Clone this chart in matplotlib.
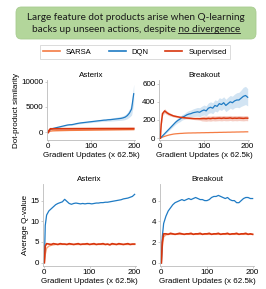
import matplotlib
matplotlib.use("Agg")
import matplotlib.pyplot as plt
from matplotlib.patches import FancyBboxPatch
from matplotlib.lines import Line2D

steps = [0, 2, 5] + list(range(10, 205, 5))

# Asterix, dot-product similarity
ast_dot_dqn = [0, 300, 600, 750, 850, 950, 1050, 1150, 1250, 1350, 1450, 1500, 1520, 1600,
               1700, 1780, 1850, 1900, 1950, 2000, 2050, 2100, 2150, 2200, 2250, 2300, 2350,
               2400, 2420, 2480, 2500, 2550, 2600, 2650, 2700, 2750, 2850, 3000, 3300, 3800,
               4600, 7600]
ast_dot_dqn_sd = [0, 50, 80, 100, 100, 100, 100, 100, 100, 120, 120, 120, 130, 130, 140, 140,
                  150, 150, 150, 160, 160, 170, 170, 180, 180, 190, 200, 220, 240, 260, 280,
                  300, 320, 340, 360, 380, 420, 480, 600, 800, 1200, 1900]
ast_dot_sup = [0, 400, 700, 690, 700, 700, 705, 705, 710, 710, 712, 715, 715, 718, 720, 720,
               722, 725, 725, 726, 728, 730, 730, 732, 733, 735, 735, 736, 738, 740, 740, 741,
               742, 743, 744, 745, 746, 747, 748, 749, 750, 750]
ast_dot_sarsa = [0, 150, 250, 300, 315, 330, 340, 350, 360, 370, 380, 390, 395, 400, 405, 410,
                 415, 420, 425, 430, 435, 440, 445, 450, 455, 460, 465, 470, 475, 480, 485,
                 490, 495, 500, 505, 510, 515, 520, 525, 530, 535, 540]

# Breakout, dot-product similarity
brk_dot_dqn = [0, 10, 25, 50, 75, 100, 125, 150, 175, 195, 210, 230, 240, 255, 265, 270, 280,
               285, 290, 285, 300, 310, 300, 330, 340, 330, 360, 350, 380, 370, 390, 360, 380,
               400, 390, 410, 420, 420, 440, 460, 470, 450]
brk_dot_dqn_sd = [0, 5, 8, 10, 12, 15, 18, 20, 22, 25, 28, 30, 32, 35, 38, 40, 42, 45, 48, 50,
                  52, 55, 55, 58, 60, 60, 62, 62, 65, 65, 65, 68, 70, 70, 72, 75, 80, 85, 90,
                  100, 100, 95]
brk_dot_sup = [0, 150, 270, 300, 280, 265, 255, 245, 240, 235, 230, 228, 225, 222, 220, 218,
               216, 215, 215, 214, 215, 216, 214, 218, 215, 220, 217, 219, 221, 218, 222, 219,
               220, 223, 218, 221, 219, 222, 220, 218, 221, 220]
brk_dot_sup_sd = [0, 10, 20, 25, 20, 18, 15, 12, 12, 10, 10, 10, 10, 10, 10, 10, 10, 12, 14,
                  16, 25, 28, 28, 28, 28, 28, 28, 28, 28, 28, 28, 28, 28, 28, 28, 28, 28, 28,
                  28, 28, 28, 28]
brk_dot_sarsa = [0, 5, 12, 20, 28, 35, 40, 45, 48, 50, 52, 53, 55, 56, 57, 57, 58, 58, 59, 59,
                 60, 60, 61, 61, 62, 62, 63, 63, 64, 64, 65, 65, 66, 66, 67, 67, 68, 68, 69,
                 69, 70, 70]

# Asterix, average Q-value
ast_q_dqn = [0, 9, 11.5, 12.5, 13, 13.5, 14, 14.3, 14.5, 14.7, 15.3, 14.8, 14.3, 14.1, 14.3,
             14.4, 14.3, 14.2, 14.3, 14.2, 14.3, 14.3, 14.2, 14.3, 14.4, 14.4, 14.5, 14.5,
             14.6, 14.6, 14.7, 14.8, 14.9, 15.0, 15.1, 15.2, 15.4, 15.5, 15.6, 15.8, 16.0, 16.5]
ast_q_sup = [0, 4.0, 4.6, 4.5, 4.4, 4.6, 4.5, 4.4, 4.6, 4.5, 4.5, 4.4, 4.6, 4.5, 4.4, 4.5,
             4.6, 4.4, 4.5, 4.5, 4.6, 4.4, 4.5, 4.6, 4.4, 4.5, 4.5, 4.6, 4.4, 4.5, 4.3, 4.6,
             4.5, 4.4, 4.6, 4.5, 4.4, 4.5, 4.6, 4.4, 4.5, 4.5]
ast_q_sarsa = [0, 2.0, 3.5, 4.0, 4.2, 4.3, 4.4, 4.4, 4.4, 4.4, 4.4, 4.4, 4.4, 4.4, 4.4, 4.4,
               4.4, 4.4, 4.4, 4.4, 4.4, 4.4, 4.4, 4.4, 4.4, 4.4, 4.4, 4.4, 4.4, 4.4, 4.4, 4.4,
               4.4, 4.4, 4.4, 4.4, 4.4, 4.4, 4.4, 4.4, 4.4, 4.4]

# Breakout, average Q-value
brk_q_dqn = [0, 2.5, 3.8, 4.5, 5.0, 5.3, 5.6, 5.8, 5.9, 6.0, 6.1, 6.0, 6.1, 6.2, 6.1, 6.2,
             6.3, 6.2, 6.1, 6.1, 6.0, 6.0, 6.1, 6.3, 6.4, 6.4, 6.5, 6.4, 6.3, 6.2, 6.3, 6.1,
             6.0, 6.0, 5.8, 5.8, 6.0, 6.2, 6.3, 6.3, 6.2, 6.2]
brk_q_sup = [0, 2.0, 2.8, 2.8, 2.75, 2.85, 2.8, 2.75, 2.8, 2.85, 2.8, 2.75, 2.8, 2.8, 2.85,
             2.75, 2.8, 2.8, 2.85, 2.75, 2.8, 2.8, 2.85, 2.75, 2.8, 2.8, 2.85, 2.75, 2.8, 2.8,
             2.85, 2.75, 2.8, 2.8, 2.85, 2.75, 2.8, 2.8, 2.85, 2.75, 2.8, 2.75]
brk_q_sarsa = [0, 1.5, 2.5, 2.7, 2.75, 2.75, 2.75, 2.75, 2.75, 2.75, 2.75, 2.75, 2.75, 2.75,
               2.75, 2.75, 2.75, 2.75, 2.75, 2.75, 2.75, 2.75, 2.75, 2.75, 2.75, 2.75, 2.75,
               2.75, 2.75, 2.75, 2.75, 2.75, 2.75, 2.75, 2.75, 2.75, 2.75, 2.75, 2.75, 2.75,
               2.75, 2.75]

labels = ["SARSA", "DQN", "Supervised"]
c_sarsa = "#f47c44"
c_dqn = "#1f7bc4"
c_sup = "#d8360e"

plt.rcParams["font.family"] = ["Liberation Sans", "DejaVu Sans"]
plt.rcParams["font.size"] = 5.5

fig = plt.figure(figsize=(2.66, 2.89), dpi=100)
W, H = 266.0, 289.0


def add_ax(x0, x1, y0, y1):
    # pixel box (top-left origin) -> figure fraction
    return fig.add_axes([x0 / W, 1 - y1 / H, (x1 - x0) / W, (y1 - y0) / H])


def band(ax, y, sd, color, alpha):
    lo = [a - b for a, b in zip(y, sd)]
    hi = [a + b for a, b in zip(y, sd)]
    ax.fill_between(steps, lo, hi, color=color, alpha=alpha, lw=0)


def style(ax, title, ylim, yticks):
    ax.set_title(title, fontsize=5.8, pad=2)
    ax.set_xlim(-3, 203)
    ax.set_ylim(*ylim)
    ax.set_yticks(yticks)
    ax.set_xticks([0, 100, 200])
    ax.set_xlabel("Gradient Updates (x 62.5k)", fontsize=5.8, labelpad=1)
    for s in ["top", "right"]:
        ax.spines[s].set_visible(False)
    for s in ["left", "bottom"]:
        ax.spines[s].set_color("#bbbbbb")
        ax.spines[s].set_linewidth(0.6)
    ax.tick_params(length=1.5, width=0.5, color="#bbbbbb", pad=1, labelsize=5.8)


ax1 = add_ax(47, 135, 80, 140)
band(ax1, ast_dot_dqn, ast_dot_dqn_sd, c_dqn, 0.2)
ax1.plot(steps, ast_dot_sarsa, color=c_sarsa, lw=1.0)
ax1.plot(steps, ast_dot_dqn, color=c_dqn, lw=0.9)
ax1.plot(steps, ast_dot_sup, color=c_sup, lw=1.3)
style(ax1, "Asterix", (-1500, 10300), [0, 5000, 10000])
ax1.set_ylabel("Dot-product similarity", fontsize=5.8, labelpad=1)

ax2 = add_ax(159, 249, 80, 140)
band(ax2, brk_dot_dqn, brk_dot_dqn_sd, c_dqn, 0.2)
band(ax2, brk_dot_sup, brk_dot_sup_sd, c_sup, 0.25)
ax2.plot(steps, brk_dot_sarsa, color=c_sarsa, lw=0.9)
ax2.plot(steps, brk_dot_dqn, color=c_dqn, lw=0.9)
ax2.plot(steps, brk_dot_sup, color=c_sup, lw=1.1)
style(ax2, "Breakout", (-20, 640), [0, 200, 400, 600])

ax3 = add_ax(43, 136, 184, 266)
ax3.plot(steps, ast_q_sarsa, color=c_sarsa, lw=1.0, alpha=0.7)
ax3.plot(steps, ast_q_dqn, color=c_dqn, lw=0.9)
ax3.plot(steps, ast_q_sup, color=c_sup, lw=1.2)
style(ax3, "Asterix", (-0.8, 19), [0, 5, 10, 15])
ax3.set_ylabel("Average Q-value", fontsize=5.8, labelpad=1)

ax4 = add_ax(160, 254, 184, 266)
ax4.plot(steps, brk_q_sarsa, color=c_sarsa, lw=1.0, alpha=0.7)
ax4.plot(steps, brk_q_dqn, color=c_dqn, lw=0.9)
ax4.plot(steps, brk_q_sup, color=c_sup, lw=1.2)
style(ax4, "Breakout", (-0.3, 7.6), [0, 2, 4, 6])

# legend
handles = [Line2D([], [], color=c, lw=1.2) for c in [c_sarsa, c_dqn, c_sup]]
leg = fig.legend(handles, labels, loc="center", bbox_to_anchor=(135 / W, 1 - 52 / H),
                 ncol=3, frameon=True, fancybox=False, fontsize=5.5, handlelength=2.2,
                 columnspacing=2.2, handletextpad=0.8, borderpad=0.4)
leg.get_frame().set_edgecolor("#cccccc")
leg.get_frame().set_linewidth(0.6)

# title box
box = FancyBboxPatch((16 / W, 1 - 39 / H), 240 / W, 32 / H,
                     boxstyle="round,pad=0,rounding_size=0.02",
                     transform=fig.transFigure, facecolor="#b3d69b", edgecolor="#a8cc90",
                     lw=0.6)
fig.patches.append(box)
tfont = dict(family=["Lato", "DejaVu Sans"], fontsize=7.2, color="#1a1a1a")
fig.text(136 / W, 1 - 17 / H, "Large feature dot products arise when Q-learning",
         ha="center", va="center", **tfont)
t2 = fig.text(136 / W, 1 - 29 / H, "backs up unseen actions, despite no divergence",
              ha="center", va="center", **tfont)

fig.canvas.draw()
r = fig.canvas.get_renderer()
bb = t2.get_window_extent(r)
tmp = fig.text(0, 0, "no divergence", **tfont)
w = tmp.get_window_extent(r).width
tmp.remove()
x_end = bb.x1 / fig.bbox.width
x_start = (bb.x1 - w) / fig.bbox.width
y_line = (bb.y0 + 1) / fig.bbox.height
fig.add_artist(Line2D([x_start, x_end], [y_line, y_line], transform=fig.transFigure,
                      color="#1a1a1a", lw=0.6))

fig.savefig("out.png", dpi=100)
